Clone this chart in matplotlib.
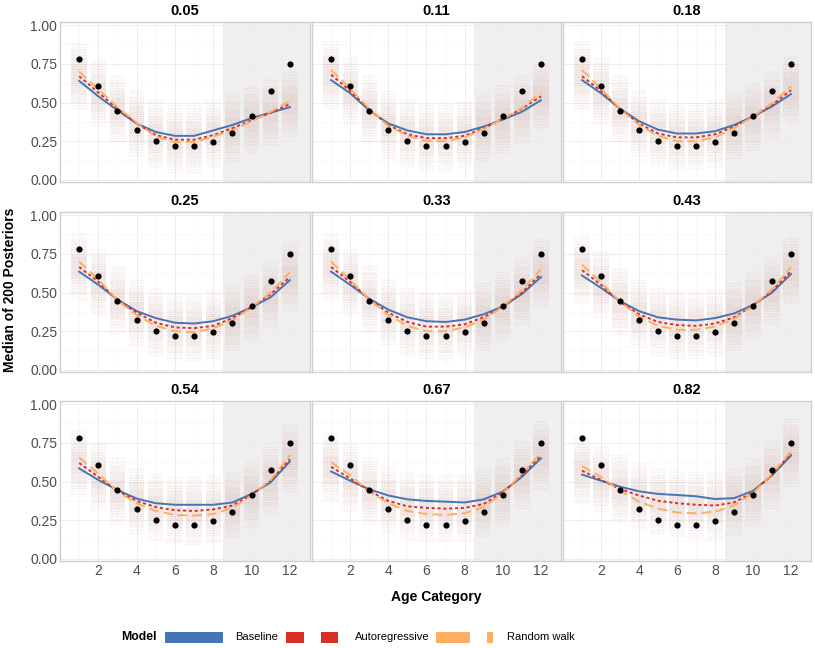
"""
Posterior medians by age category, one panel per mixing weight.
"""
import matplotlib
matplotlib.use("Agg")
import matplotlib.pyplot as plt
from matplotlib.patches import Rectangle

# ---- data ----
AGE = [1, 2, 3, 4, 5, 6, 7, 8, 9, 10, 11, 12]
OBSERVED = [0.78, 0.606, 0.445, 0.32, 0.254, 0.22, 0.22, 0.243, 0.305, 0.415, 0.572, 0.746]
PANELS = ["0.05", "0.11", "0.18", "0.25", "0.33", "0.43", "0.54", "0.67", "0.82"]

BASELINE = [
    [0.64, 0.54, 0.45, 0.365, 0.31, 0.285, 0.285, 0.32, 0.355, 0.40, 0.435, 0.47],
    [0.645, 0.56, 0.45, 0.365, 0.32, 0.295, 0.295, 0.31, 0.345, 0.39, 0.44, 0.515],
    [0.645, 0.56, 0.46, 0.38, 0.325, 0.30, 0.30, 0.315, 0.355, 0.41, 0.475, 0.555],
    [0.635, 0.55, 0.455, 0.38, 0.335, 0.305, 0.30, 0.315, 0.35, 0.405, 0.47, 0.58],
    [0.635, 0.55, 0.46, 0.39, 0.34, 0.315, 0.31, 0.325, 0.36, 0.41, 0.49, 0.60],
    [0.61, 0.53, 0.445, 0.38, 0.34, 0.325, 0.32, 0.335, 0.365, 0.42, 0.50, 0.62],
    [0.585, 0.51, 0.445, 0.39, 0.36, 0.35, 0.35, 0.35, 0.365, 0.42, 0.495, 0.63],
    [0.565, 0.505, 0.45, 0.41, 0.385, 0.375, 0.37, 0.365, 0.385, 0.435, 0.53, 0.65],
    [0.545, 0.505, 0.467, 0.437, 0.42, 0.413, 0.405, 0.387, 0.393, 0.44, 0.54, 0.668],
]
AUTOREG = [
    [0.67, 0.565, 0.46, 0.365, 0.29, 0.26, 0.26, 0.29, 0.335, 0.385, 0.435, 0.49],
    [0.68, 0.575, 0.455, 0.355, 0.295, 0.27, 0.27, 0.285, 0.335, 0.395, 0.46, 0.54],
    [0.67, 0.575, 0.46, 0.365, 0.30, 0.275, 0.275, 0.295, 0.345, 0.41, 0.485, 0.58],
    [0.665, 0.57, 0.45, 0.37, 0.305, 0.275, 0.27, 0.285, 0.335, 0.405, 0.49, 0.60],
    [0.665, 0.57, 0.455, 0.37, 0.31, 0.28, 0.28, 0.295, 0.34, 0.41, 0.50, 0.62],
    [0.645, 0.55, 0.44, 0.36, 0.31, 0.29, 0.285, 0.30, 0.34, 0.415, 0.51, 0.64],
    [0.62, 0.53, 0.44, 0.375, 0.335, 0.315, 0.31, 0.32, 0.345, 0.415, 0.505, 0.645],
    [0.595, 0.52, 0.44, 0.375, 0.34, 0.33, 0.325, 0.33, 0.355, 0.43, 0.54, 0.67],
    [0.57, 0.51, 0.452, 0.41, 0.376, 0.36, 0.35, 0.345, 0.365, 0.43, 0.545, 0.68],
]
RANDOM_WALK = [
    [0.70, 0.585, 0.47, 0.37, 0.28, 0.245, 0.245, 0.28, 0.32, 0.38, 0.44, 0.51],
    [0.71, 0.59, 0.46, 0.35, 0.285, 0.25, 0.25, 0.275, 0.33, 0.395, 0.465, 0.565],
    [0.71, 0.59, 0.46, 0.355, 0.285, 0.25, 0.25, 0.275, 0.335, 0.41, 0.495, 0.605],
    [0.70, 0.585, 0.45, 0.355, 0.285, 0.25, 0.245, 0.27, 0.32, 0.405, 0.50, 0.63],
    [0.70, 0.58, 0.455, 0.355, 0.285, 0.25, 0.25, 0.275, 0.325, 0.41, 0.515, 0.65],
    [0.68, 0.565, 0.44, 0.345, 0.285, 0.26, 0.26, 0.28, 0.33, 0.415, 0.52, 0.665],
    [0.655, 0.55, 0.435, 0.36, 0.31, 0.285, 0.28, 0.29, 0.33, 0.41, 0.51, 0.67],
    [0.625, 0.54, 0.435, 0.36, 0.31, 0.29, 0.285, 0.295, 0.335, 0.425, 0.55, 0.685],
    [0.60, 0.53, 0.44, 0.37, 0.326, 0.30, 0.295, 0.305, 0.345, 0.425, 0.55, 0.695],
]
# rough half-ranges of the 200 posterior draws around the model medians
CLOUD_SPREADS = [0.22, 0.17, 0.12, 0.07]
HOLDOUT_START = 8.5

BLUE, RED, ORANGE = "#4575b4", "#d73027", "#fdae61"

plt.rcParams["font.family"] = ["Liberation Sans", "DejaVu Sans"]
plt.rcParams["hatch.linewidth"] = 0.45

W, H = 815, 648
fig = plt.figure(figsize=(W / 100, H / 100), dpi=100)

col_x = [(60, 310), (312, 561), (563, 811)]
row_y = [(22, 182), (212, 372), (401, 561)]


def px_box(x0, x1, y0, y1):
    return [x0 / W, 1 - y1 / H, (x1 - x0) / W, (y1 - y0) / H]


for i, title in enumerate(PANELS):
    r, c = divmod(i, 3)
    ax = fig.add_axes(px_box(*col_x[c], *row_y[r]))
    ax.set_xlim(0.0, 13.05)
    ax.set_ylim(-0.013, 1.02)

    # grid
    ax.set_xticks([2, 4, 6, 8, 10, 12])
    ax.set_xticks([1, 3, 5, 7, 9, 11, 13], minor=True)
    ax.set_yticks([0, 0.25, 0.5, 0.75, 1.0])
    ax.set_yticks([0.125, 0.375, 0.625, 0.875], minor=True)
    ax.grid(True, which="major", color="#ebebeb", lw=0.6, zorder=0)
    ax.grid(True, which="minor", color="#f5f5f5", lw=0.4, zorder=0)
    ax.set_axisbelow(True)
    ax.axvspan(HOLDOUT_START, 13.05, color="#efefef", zorder=0.5, lw=0)

    # posterior cloud: faint stippled columns, denser toward the middle
    centre = [(b + a + w) / 3 for b, a, w in zip(BASELINE[i], AUTOREG[i], RANDOM_WALK[i])]
    for k, sp in enumerate(CLOUD_SPREADS):
        ax.bar(AGE, [2 * sp] * 12, bottom=[m - sp for m in centre], width=0.8,
               color="#c98b80", alpha=0.022, linewidth=0, zorder=1)
        ax.bar(AGE, [2 * sp] * 12, bottom=[m - sp for m in centre], width=0.8,
               fill=False, hatch="." * (6 + k),
               edgecolor=["#c0504a", "#e8944f", "#8a7a8a", "#c0504a"][k],
               linewidth=0, alpha=0.11, zorder=1)

    ax.plot(AGE, BASELINE[i], color=BLUE, lw=1.4, zorder=3)
    ax.plot(AGE, AUTOREG[i], color=RED, lw=1.4, ls=(0, (1.6, 1.4)), zorder=3)
    ax.plot(AGE, RANDOM_WALK[i], color=ORANGE, lw=1.4, ls=(0, (5, 2.5)), zorder=3)
    ax.scatter(AGE, OBSERVED, s=20, color="black", zorder=4, lw=0)

    ax.set_title(title, fontsize=10.5, fontweight="bold", pad=5)
    ax.tick_params(which="both", length=0, labelsize=10, labelcolor="#4d4d4d", pad=2)
    if c == 0:
        ax.set_yticklabels(["0.00", "0.25", "0.50", "0.75", "1.00"])
    else:
        ax.set_yticklabels([])
    if r < 2:
        ax.set_xticklabels([])
    for s in ax.spines.values():
        s.set_color("#d0d0d0")
        s.set_linewidth(1.0)

fig.text(10 / W, 1 - 290 / H, "Median of 200 Posteriors", rotation=90,
         ha="center", va="center", fontsize=10, fontweight="bold")
fig.text(436 / W, 1 - 597 / H, "Age Category", ha="center", va="center",
         fontsize=10, fontweight="bold")

# legend drawn by hand to mimic the original key layout
ly = 1 - 637 / H
kh = 11 / H
fig.text(121 / W, ly, "Model", ha="left", va="center", fontsize=8.8, fontweight="bold")
keys = [(165, 223, BLUE), (286, 304, RED), (321, 338, RED), (436, 470, ORANGE), (487, 493, ORANGE)]
for x0, x1, col in keys:
    fig.patches.append(Rectangle((x0 / W, ly - kh / 2), (x1 - x0) / W, kh,
                                 transform=fig.transFigure, color=col, lw=0))
for x, lab in [(235, "Baseline"), (355, "Autoregressive"), (507, "Random walk")]:
    fig.text(x / W, ly, lab, ha="left", va="center", fontsize=8)

fig.savefig("out.png", dpi=100)
